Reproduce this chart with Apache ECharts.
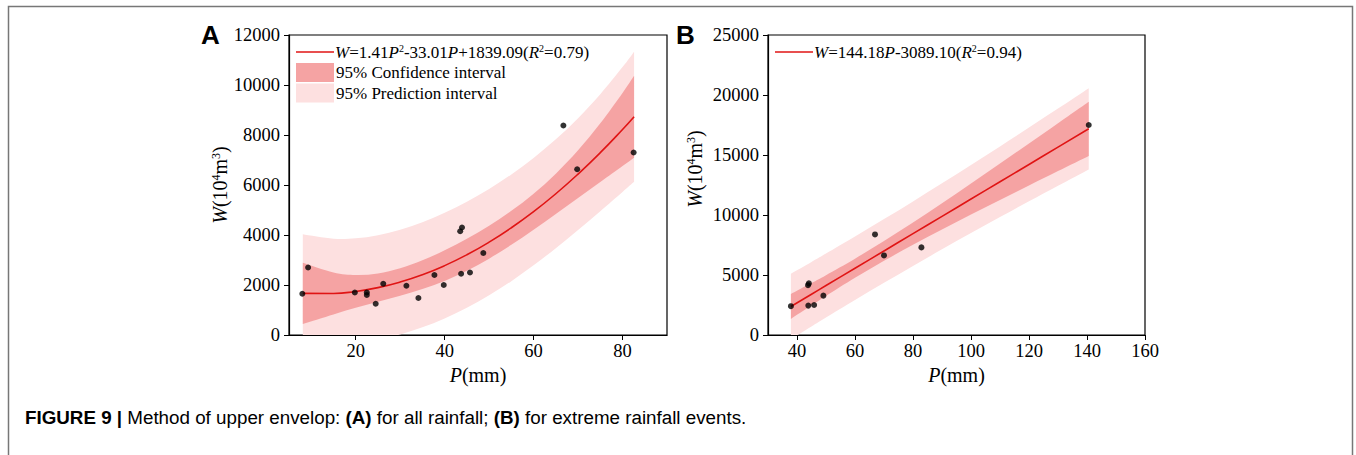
<!DOCTYPE html>
<html><head><meta charset="utf-8">
<script src="https://cdn.jsdelivr.net/npm/echarts@6/dist/echarts.min.js"></script>
<style>html,body{margin:0;padding:0;background:#fff}#c{width:1356px;height:455px}</style>
</head><body><div id="c"></div>
<script>
// ---------- Panel A data ----------
const rainA = [8.0, 9.3, 19.8, 22.5, 22.5, 24.5, 26.2, 31.4, 34.1, 37.7, 39.8, 43.5, 43.9, 43.7, 45.7, 48.7, 66.7, 69.8, 82.5];
const volA  = [1650, 2700, 1700, 1700, 1600, 1250, 2050, 1970, 1480, 2400, 2000, 4150, 4300, 2450, 2500, 3280, 8380, 6630, 7300];
const curveXA = [8.1, 15, 20, 25, 30, 35, 40, 45, 50, 55, 60, 65, 70, 75, 80, 82.6];
const fitA    = [1665, 1661, 1743, 1895, 2118, 2411, 2775, 3209, 3714, 4289, 4934, 5650, 6437, 7293, 8220, 8731];
const ciUpA   = [2888, 2498, 2397, 2457, 2666, 2986, 3386, 3849, 4373, 4968, 5654, 6455, 7390, 8466, 9682, 10369];
const ciLoA   = [442, 824, 1089, 1333, 1570, 1836, 2164, 2569, 3055, 3610, 4214, 4845, 5484, 6120, 6758, 7093];
const piUpA   = [4029, 3850, 3869, 3995, 4214, 4514, 4888, 5331, 5842, 6423, 7081, 7827, 8673, 9631, 10716, 11334];
const piLoA   = [-699, -528, -383, -205, 22, 308, 662, 1087, 1586, 2155, 2787, 3473, 4201, 4955, 5724, 6128];
const xTicksA = [20, 40, 60, 80];

// ---------- Panel B data ----------
const rainB = [37.9, 43.8, 44.1, 43.9, 45.9, 49.1, 66.9, 70.0, 82.9, 140.6];
const volB  = [2400, 4150, 4300, 2450, 2500, 3280, 8380, 6630, 7300, 17500];
const curveXB = [37.9, 45, 50, 60, 70, 80, 90, 100, 110, 120, 130, 140.6];
const fitB    = [2375, 3399, 4120, 5562, 7004, 8445, 9887, 11329, 12771, 14213, 15654, 17183];
const ciUpB   = [3415, 4327, 4987, 6363, 7828, 9373, 10978, 12621, 14285, 15963, 17649, 19444];
const ciLoB   = [1335, 2471, 3253, 4761, 6180, 7517, 8796, 10037, 11257, 12463, 13659, 14922];
const piUpB   = [5105, 6088, 6789, 8210, 9659, 11134, 12637, 14164, 15714, 17284, 18871, 20571];
const piLoB   = [-355, 710, 1451, 2914, 4349, 5756, 7137, 8494, 9828, 11142, 12437, 13795];
const xTicksB = [40, 60, 80, 100, 120, 140, 160];

const legendA = ['{i|W}{n|=1.41}{i|P}{s|2}{n|-33.01}{i|P}{n|+1839.09(}{i|R}{s|2}{n|=0.79)}', '95% Confidence interval', '95% Prediction interval'];
const legendB = ['{i|W}{n|=144.18}{i|P}{n|-3089.10(}{i|R}{s|2}{n|=0.94)}'];
const caption = '{b|FIGURE 9 |}{n| Method of upper envelop: }{b|(A)}{n| for all rainfall; }{b|(B)}{n| for extreme rainfall events.}';

// ---------- styling ----------
const serif = "'Liberation Serif','Times New Roman',serif";
const sans = "'Liberation Sans',Arial,sans-serif";
const RED = '#e01414', CI_COL = '#f5a3a3', PI_COL = '#fde0e0';
const richSerif = (fs) => ({
  i: {fontFamily: serif, fontSize: fs, fontStyle: 'italic', color: '#000'},
  n: {fontFamily: serif, fontSize: fs, color: '#000'},
  s: {fontFamily: serif, fontSize: Math.round(fs * 0.6), color: '#000', verticalAlign: 'top'}
});
const pairs = (xs, ys) => xs.map((x, k) => [x, ys[k]]);

function axes(gi, min, max, ticks, ymax, yint, yGap, yPad) {
  return {
    x: {
      type: 'value', gridIndex: gi, min: min, max: max,
      name: '{i|P}{n|(mm)}', nameLocation: 'middle', nameGap: 25,
      nameTextStyle: {rich: richSerif(20)},
      axisLine: {show: true, onZero: false, lineStyle: {color: '#000', width: 1.2}},
      axisTick: {show: true, inside: false, length: 5, customValues: ticks, lineStyle: {color: '#000'}},
      axisLabel: {customValues: ticks, margin: 6, fontFamily: serif, fontSize: 18.5, color: '#000', formatter: v => String(v)},
      splitLine: {show: false}
    },
    y: {
      type: 'value', gridIndex: gi, min: 0, max: ymax, interval: yint,
      name: '{i|W}{n|(10}{s|4}{n|m}{s|3}{n|)}', nameLocation: 'middle', nameGap: yGap,
      nameTextStyle: {rich: richSerif(20), padding: yPad},
      axisLine: {show: true, onZero: false, lineStyle: {color: '#000', width: 1.2}},
      axisTick: {show: true, inside: false, length: 5, lineStyle: {color: '#000'}},
      axisLabel: {margin: 9, fontFamily: serif, fontSize: 18.5, color: '#000', formatter: v => String(v)},
      splitLine: {show: false}
    }
  };
}
const aA = axes(0, 5, 90, xTicksA, 12000, 2000, 47, [0, 0, 0, 0]);
const aB = axes(1, 30, 160, xTicksB, 25000, 5000, 63, [0, 0, 0, 32]);

// smooth curve through pixel points (Catmull-Rom as cubic Bezier)
function curvePath(pts) {
  let d = '';
  for (let i = 0; i < pts.length - 1; i++) {
    const p0 = pts[i - 1] || pts[i], p1 = pts[i], p2 = pts[i + 1], p3 = pts[i + 2] || pts[i + 1];
    const c1 = [p1[0] + (p2[0] - p0[0]) / 6, p1[1] + (p2[1] - p0[1]) / 6];
    const c2 = [p2[0] - (p3[0] - p1[0]) / 6, p2[1] - (p3[1] - p1[1]) / 6];
    d += ' C' + c1.join(',') + ' ' + c2.join(',') + ' ' + p2.join(',');
  }
  return d;
}
// band between two curves, positioned through the axis scales (api.coord)
function bandSeries(gi, xs, up, lo, color) {
  return {
    type: 'custom', xAxisIndex: gi, yAxisIndex: gi, silent: true,
    data: xs.map((x, k) => [x, lo[k], up[k]]),
    encode: {x: 0, y: [1, 2]},
    renderItem: (params, api) => {
      if (params.dataIndex !== 0) return null;
      const u = xs.map((x, k) => api.coord([x, up[k]]));
      const l = xs.map((x, k) => api.coord([x, lo[k]])).reverse();
      const d = 'M' + u[0].join(',') + curvePath(u) + ' L' + l[0].join(',') + curvePath(l) + ' Z';
      const cs = params.coordSys;
      return {type: 'path', shape: {pathData: d}, style: {fill: color, stroke: null},
              clipPath: {type: 'rect', shape: {x: cs.x, y: cs.y, width: cs.width, height: cs.height}}};
    }
  };
}
function fitSeries(gi, xs, ys) {
  return {type: 'line', xAxisIndex: gi, yAxisIndex: gi, data: pairs(xs, ys), smooth: true, symbol: 'none',
          lineStyle: {color: RED, width: 1.6}, z: 5};
}
function dotSeries(gi, xs, ys) {
  return {type: 'scatter', xAxisIndex: gi, yAxisIndex: gi, data: pairs(xs, ys), symbolSize: 6,
          itemStyle: {color: '#000'}, z: 6};
}

function legendLine(x, y, label) {
  return [
    {type: 'line', shape: {x1: x, y1: y, x2: x + 38, y2: y}, style: {stroke: RED, lineWidth: 1.6}},
    {type: 'text', x: x + 39, y: y, style: {text: label, rich: richSerif(17), verticalAlign: 'middle', align: 'left'}}
  ];
}
function legendBox(x, y, color, label) {
  return [
    {type: 'rect', shape: {x: x, y: y - 9.5, width: 38, height: 19}, style: {fill: color}},
    {type: 'text', x: x + 40, y: y, style: {text: label, fontFamily: serif, fontSize: 17, fill: '#000', verticalAlign: 'middle', align: 'left'}}
  ];
}

const option = {
  animation: false,
  backgroundColor: '#fff',
  grid: [
    {left: 289, top: 35, width: 378, height: 300, show: true, borderColor: '#000', borderWidth: 1.2, backgroundColor: 'transparent'},
    {left: 768, top: 35, width: 377, height: 300, show: true, borderColor: '#000', borderWidth: 1.2, backgroundColor: 'transparent'}
  ],
  xAxis: [aA.x, aB.x],
  yAxis: [aA.y, aB.y],
  series: [
    bandSeries(0, curveXA, piUpA, piLoA, PI_COL),
    bandSeries(0, curveXA, ciUpA, ciLoA, CI_COL),
    fitSeries(0, curveXA, fitA),
    dotSeries(0, rainA, volA),
    bandSeries(1, curveXB, piUpB, piLoB, PI_COL),
    bandSeries(1, curveXB, ciUpB, ciLoB, CI_COL),
    fitSeries(1, curveXB, fitB),
    dotSeries(1, rainB, volB)
  ],
  graphic: [
    {type: 'rect', shape: {x: 8.5, y: 6.5, width: 1344, height: 470}, style: {fill: 'none', stroke: '#777', lineWidth: 1.5}, silent: true},
    ...legendLine(296, 52, legendA[0]),
    ...legendBox(296, 72.5, CI_COL, legendA[1]),
    ...legendBox(296, 93, PI_COL, legendA[2]),
    ...legendLine(775, 52, legendB[0]),
    {type: 'text', x: 201, y: 35, style: {text: 'A', fontFamily: sans, fontWeight: 'bold', fontSize: 26, fill: '#000', verticalAlign: 'middle'}},
    {type: 'text', x: 676, y: 35, style: {text: 'B', fontFamily: sans, fontWeight: 'bold', fontSize: 26, fill: '#000', verticalAlign: 'middle'}},
    {type: 'text', x: 25, y: 417, style: {text: caption, verticalAlign: 'middle', align: 'left',
      rich: {b: {fontFamily: sans, fontWeight: 'bold', fontSize: 18.8, color: '#111'}, n: {fontFamily: sans, fontSize: 18.8, color: '#111'}}}}
  ]
};
const chart = echarts.init(document.getElementById('c'), null, {renderer: 'svg'});
chart.setOption(option);
</script>
</body></html>
